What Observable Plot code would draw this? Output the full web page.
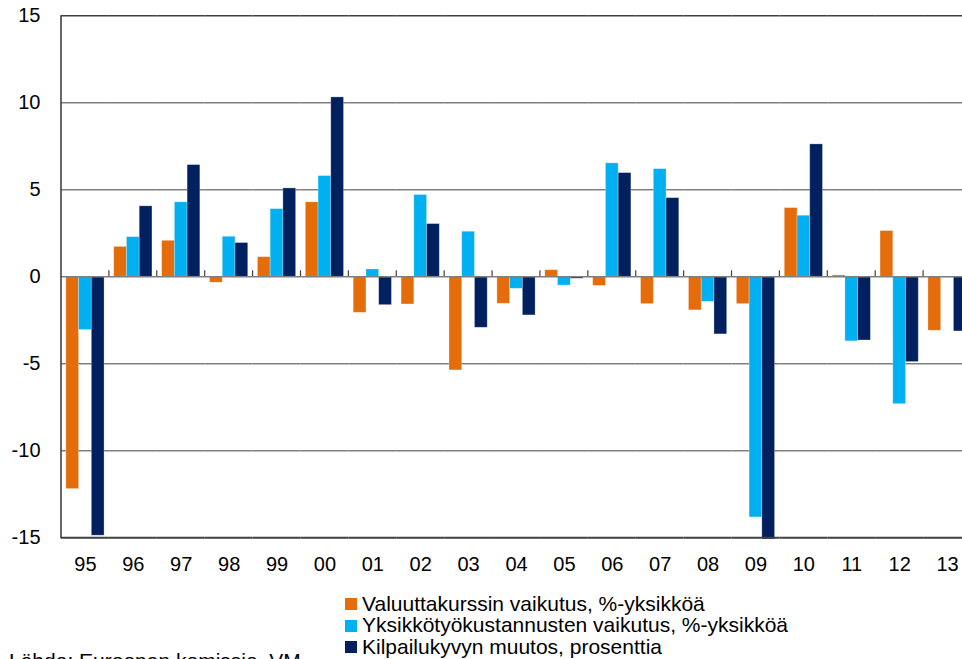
<!DOCTYPE html>
<html>
<head>
<meta charset="utf-8">
<script src="https://cdn.jsdelivr.net/npm/d3@7"></script>
<script src="https://cdn.jsdelivr.net/npm/@observablehq/plot@0.6"></script>
<style>
  html, body { margin: 0; padding: 0; background: #fff; overflow: hidden; }
  #wrap { position: relative; width: 962px; height: 659px; overflow: hidden; font-family: "Liberation Sans", Arial, sans-serif; }
  #legend { position: absolute; left: 345px; top: 593px; font-size: 21px; line-height: 21.4px; color: #000; white-space: nowrap; }
  #legend .item { display: flex; align-items: center; height: 21.4px; }
  #legend .sw { width: 12px; height: 12px; margin-right: 5px; margin-top: 1px; flex: none; }
  #source { position: absolute; left: 9px; top: 650px; font-size: 21px; line-height: 21px; color: #000; white-space: nowrap; }
</style>
</head>
<body>
<div id="wrap">
  <div id="chart"></div>
  <div id="legend"></div>
  <div id="source">Lähde: Euroopan komissio, VM</div>
</div>
<script>
const years = ["95","96","97","98","99","00","01","02","03","04","05","06","07","08","09","10","11","12","13"];
const series = [
  "Valuuttakurssin vaikutus, %-yksikköä",
  "Yksikkötyökustannusten vaikutus, %-yksikköä",
  "Kilpailukyvyn muutos, prosenttia"
];
const valuutta = [-12.2, 1.72, 2.07, -0.34, 1.13, 4.28, -2.07, -1.59, -5.38, -1.55, 0.38, -0.52, -1.57, -1.93, -1.57, 3.95, 0.08, 2.63, -3.1];
const yksikko  = [-3.06, 2.28, 4.28, 2.3, 3.89, 5.79, 0.42, 4.7, 2.59, -0.69, -0.5, 6.52, 6.19, -1.44, -13.83, 3.51, -3.71, -7.32, -0.05];
const kilpailu = [-14.88, 4.05, 6.42, 1.94, 5.08, 10.31, -1.63, 3.03, -2.93, -2.22, -0.11, 5.96, 4.52, -3.31, -15.09, 7.61, -3.66, -4.9, -3.14];
const colors = ["#E46C0A", "#00B0F0", "#002060"];
const yTicks = [15, 10, 5, 0, -5, -10, -15];

const valueArrays = [valuutta, yksikko, kilpailu];
const data = years.flatMap((yr, i) => series.map((s, k) => ({year: yr, series: s, value: valueArrays[k][i]})));

const plot = Plot.plot({
  width: 962,
  height: 590,
  marginLeft: 61,
  marginRight: -9,
  marginTop: 15.3,
  marginBottom: 52.7,
  style: {fontFamily: "'Liberation Sans', Arial, sans-serif", color: "#000", background: "#fff"},
  fx: {domain: years, padding: 0, round: false, label: null},
  x: {domain: series, paddingInner: 0, paddingOuter: 0.38, round: false, axis: null},
  y: {domain: [-15, 15], axis: null},
  color: {domain: series, range: colors},
  marks: [
    Plot.gridY([10, 5, -5, -10], {stroke: "#7f7f7f", strokeOpacity: 1, strokeWidth: 1.4}),
    Plot.barY(data, {fx: "year", x: "series", y: "value", fill: "series", stroke: "#ffffff", strokeOpacity: 0.35, strokeWidth: 0.8}),
    Plot.ruleY([0], {stroke: "#7f7f7f", strokeWidth: 1.5}),
    Plot.ruleY([15], {stroke: "#404040", strokeWidth: 1.5}),
    Plot.ruleY([-15], {stroke: "#404040", strokeWidth: 2}),
    Plot.axisY({ticks: yTicks, tickSize: 0, tickPadding: 21, fontSize: 20, tickFormat: d => String(d), label: null}),
    Plot.axisFx({anchor: "bottom", tickSize: 0, tickPadding: 18.5, fontSize: 20, label: null})
  ]
});
document.getElementById("chart").appendChild(plot);

// axis line and zero-line tick marks at group boundaries, positioned by Plot's scales
const fx = plot.scale("fx");
const ys = plot.scale("y");
const svg = d3.select(plot);
const y0 = ys.apply(0);
const g = svg.append("g");
g.selectAll("line.tk").data(years.slice(1)).join("line")
  .attr("x1", d => fx.apply(d)).attr("x2", d => fx.apply(d))
  .attr("y1", y0 - 6).attr("y2", y0)
  .attr("stroke", "#404040").attr("stroke-width", 1.2);
g.append("line")
  .attr("x1", fx.range[0]).attr("x2", fx.range[0])
  .attr("y1", ys.apply(15)).attr("y2", ys.apply(-15) + 1)
  .attr("stroke", "#404040").attr("stroke-width", 1.6);

// legend
const legend = d3.select("#legend");
series.forEach((s, k) => {
  const it = legend.append("div").attr("class", "item");
  it.append("div").attr("class", "sw").style("background", colors[k]);
  it.append("span").text(s);
});
</script>
</body>
</html>
